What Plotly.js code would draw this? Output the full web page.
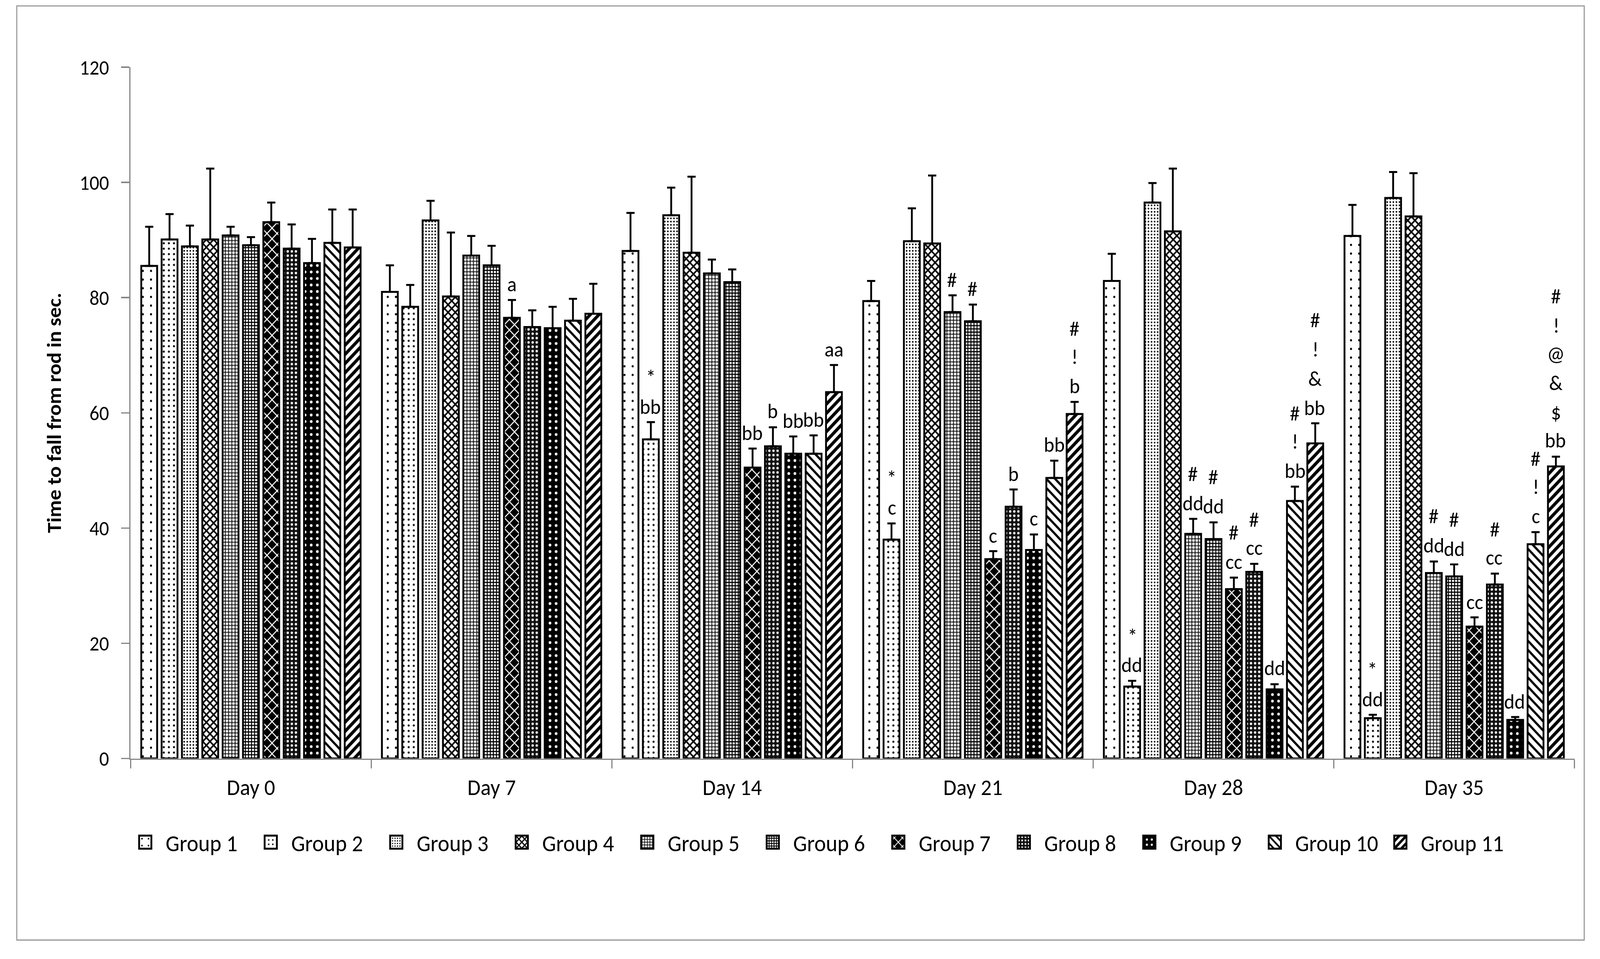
<!DOCTYPE html>
<html><head><meta charset="utf-8">
<script src="https://cdn.plot.ly/plotly-3.0.1.min.js"></script>
<style>
html,body{margin:0;padding:0;background:#fff;overflow:hidden}
#stage{position:absolute;left:0;top:0;width:1568px;height:885px;transform-origin:0 0}
#frame{position:absolute;left:16px;top:5px;width:1537px;height:863px;border:1px solid #8c8c8c;box-sizing:border-box;background:#fff}
#chart{position:absolute;left:0;top:0;width:1535px;height:861px}
</style></head><body>
<div id="stage"><div id="frame"><div id="chart"></div></div></div>
<script>
const days = ['Day 0', 'Day 7', 'Day 14', 'Day 21', 'Day 28', 'Day 35'];
const groupNames = ['Group 1','Group 2','Group 3','Group 4','Group 5','Group 6','Group 7','Group 8','Group 9','Group 10','Group 11'];

// mean values per group (Day 0, 7, 14, 21, 28, 35)
const group1  = [85.5, 81.0, 88.1, 79.4, 82.9, 90.7];
const group2  = [90.1, 78.4, 55.4, 38.0, 12.5, 7.0];
const group3  = [88.9, 93.4, 94.3, 89.8, 96.5, 97.3];
const group4  = [90.1, 80.2, 87.8, 89.4, 91.5, 94.1];
const group5  = [90.8, 87.3, 84.2, 77.5, 39.0, 32.2];
const group6  = [89.1, 85.6, 82.7, 75.9, 38.1, 31.6];
const group7  = [93.1, 76.5, 50.5, 34.6, 29.4, 22.9];
const group8  = [88.5, 74.9, 54.2, 43.7, 32.4, 30.2];
const group9  = [86.0, 74.7, 52.9, 36.2, 12.0, 6.7];
const group10 = [89.5, 76.0, 52.9, 48.7, 44.7, 37.2];
const group11 = [88.7, 77.2, 63.6, 59.8, 54.7, 50.7];

// upper error (SEM) per group
const err1  = [6.8, 4.6, 6.6, 3.5, 4.7, 5.4];
const err2  = [4.4, 3.8, 3.0, 2.8, 1.0, 0.6];
const err3  = [3.6, 3.4, 4.8, 5.7, 3.4, 4.5];
const err4  = [12.3, 11.1, 13.2, 11.8, 10.9, 7.5];
const err5  = [1.5, 3.4, 2.4, 2.9, 2.6, 2.0];
const err6  = [1.4, 3.4, 2.2, 2.9, 2.9, 2.1];
const err7  = [3.4, 3.1, 3.3, 1.4, 2.0, 1.6];
const err8  = [4.2, 2.9, 3.3, 3.0, 1.4, 1.9];
const err9  = [4.2, 3.7, 3.0, 2.7, 0.9, 0.5];
const err10 = [5.8, 3.8, 3.2, 3.0, 2.5, 2.1];
const err11 = [6.6, 5.2, 4.7, 2.1, 3.5, 1.7];

// significance labels (top line first, lines separated by |)
const sig1  = ['', '', '', '', '', ''];
const sig2  = ['', '', '*|bb', '*|c', '*|dd', '*|dd'];
const sig3  = ['', '', '', '', '', ''];
const sig4  = ['', '', '', '', '', ''];
const sig5  = ['', '', '', '#', '#|dd', '#|dd'];
const sig6  = ['', '', '', '#', '#|dd', '#|dd'];
const sig7  = ['', 'a', 'bb', 'c', '#|cc', 'cc'];
const sig8  = ['', '', 'b', 'b', '#|cc', '#|cc'];
const sig9  = ['', '', 'bb', 'c', 'dd', 'dd'];
const sig10 = ['', '', 'bb', 'bb', '#|!|bb', '#|!|c'];
const sig11 = ['', '', 'aa', '#|!|b', '#|!|&|bb', '#|!|@|&|$|bb'];

const yTicks = [0, 20, 40, 60, 80, 100, 120];

const values = [group1, group2, group3, group4, group5, group6, group7, group8, group9, group10, group11];
const errors = [err1, err2, err3, err4, err5, err6, err7, err8, err9, err10, err11];
const sigs = [sig1, sig2, sig3, sig4, sig5, sig6, sig7, sig8, sig9, sig10, sig11];

// fit the design (1568 x 885 units) to the actual viewport
const vw = window.innerWidth || 4351, vh = window.innerHeight || 2456;
document.getElementById('stage').style.transform = 'scale(' + (vw / 1568) + ',' + (vh / 885) + ')';

const patterns = [
  {shape: '.', fgcolor: '#000', bgcolor: '#fff', size: 8, solidity: 0.05},
  {shape: '.', fgcolor: '#000', bgcolor: '#fff', size: 5, solidity: 0.12},
  {shape: '.', fgcolor: '#000', bgcolor: '#fff', size: 3, solidity: 0.22},
  {shape: 'x', fgcolor: '#000', bgcolor: '#fff', size: 5, solidity: 0.5},
  {shape: '.', fgcolor: '#fff', bgcolor: '#333', size: 3.2, solidity: 0.45},
  {shape: '+', fgcolor: '#000', bgcolor: '#fff', size: 3, solidity: 0.55},
  {shape: 'x', fgcolor: '#fff', bgcolor: '#000', size: 7, solidity: 0.25},
  {shape: '.', fgcolor: '#fff', bgcolor: '#111', size: 4, solidity: 0.25},
  {shape: '.', fgcolor: '#fff', bgcolor: '#000', size: 6, solidity: 0.15},
  {shape: '\\', fgcolor: '#000', bgcolor: '#fff', size: 6, solidity: 0.35},
  {shape: '/', fgcolor: '#000', bgcolor: '#fff', size: 6, solidity: 0.5}
];

const FONT = 'Carlito, Lato, "Liberation Sans", sans-serif';
const bargap = 0.07;
const nGroups = groupNames.length;
const slot = (1 - bargap) / nGroups;

const traces = groupNames.map((name, g) => ({
  type: 'bar',
  name: name,
  x: days,
  y: values[g],
  marker: {color: '#fff', line: {color: '#000', width: 1.8}, pattern: patterns[g]},
  error_y: {type: 'data', symmetric: false, array: errors[g], arrayminus: errors[g].map(() => 0),
            color: '#000', thickness: 1.8, width: 4},
  hoverinfo: 'skip'
}));

const LINE = 26.7;
const annotations = [];
sigs.forEach((sg, g) => {
  sg.forEach((txt, d) => {
    if (!txt) return;
    const lines = txt.split('|').reverse();
    const top = values[g][d] + errors[g][d];
    lines.forEach((ln, i) => {
      annotations.push({
        x: d + (g - (nGroups - 1) / 2) * slot,
        y: top, xref: 'x', yref: 'y',
        text: ln, showarrow: false, yanchor: 'bottom', xanchor: 'center',
        yshift: 1 + i * LINE,
        font: {family: FONT, size: 19.5, color: '#000'}
      });
    });
  });
});

const layout = {
  width: 1535, height: 861,
  margin: {l: 111, r: 9, t: 56, b: 167},
  paper_bgcolor: '#fff', plot_bgcolor: '#fff',
  font: {family: FONT, size: 19, color: '#000'},
  barmode: 'group', bargap: bargap, bargroupgap: 0.22,
  showlegend: true,
  legend: {orientation: 'h', x: -0.004, xanchor: 'left', y: -0.121, yanchor: 'middle',
           entrywidth: 78, entrywidthmode: 'pixels',
           font: {family: FONT, size: 21.5, color: '#000'}, traceorder: 'normal', tracegroupgap: 0},
  xaxis: {type: 'category', tickson: 'boundaries', ticks: 'outside', ticklen: 8, tickcolor: '#868686',
          tickwidth: 1.3, showline: true, linecolor: '#868686', linewidth: 1.3, showgrid: false,
          tickfont: {family: FONT, size: 21, color: '#000'}, ticklabelstandoff: 7},
  yaxis: {range: [0, 120], tickvals: yTicks, ticks: 'outside', ticklen: 8, tickcolor: '#868686',
          tickwidth: 1.3, showline: true, linecolor: '#868686', linewidth: 1.3, showgrid: false,
          zeroline: false, tickfont: {family: FONT, size: 19, color: '#000'}, ticklabelstandoff: 8,
          title: {text: 'Time to fall from rod in sec.', standoff: 12,
                  font: {family: FONT, size: 19.5, color: '#000', weight: 'bold'}}},
  annotations: annotations
};

Plotly.newPlot('chart', traces, layout, {staticPlot: true, displayModeBar: false});
</script>
</body></html>
